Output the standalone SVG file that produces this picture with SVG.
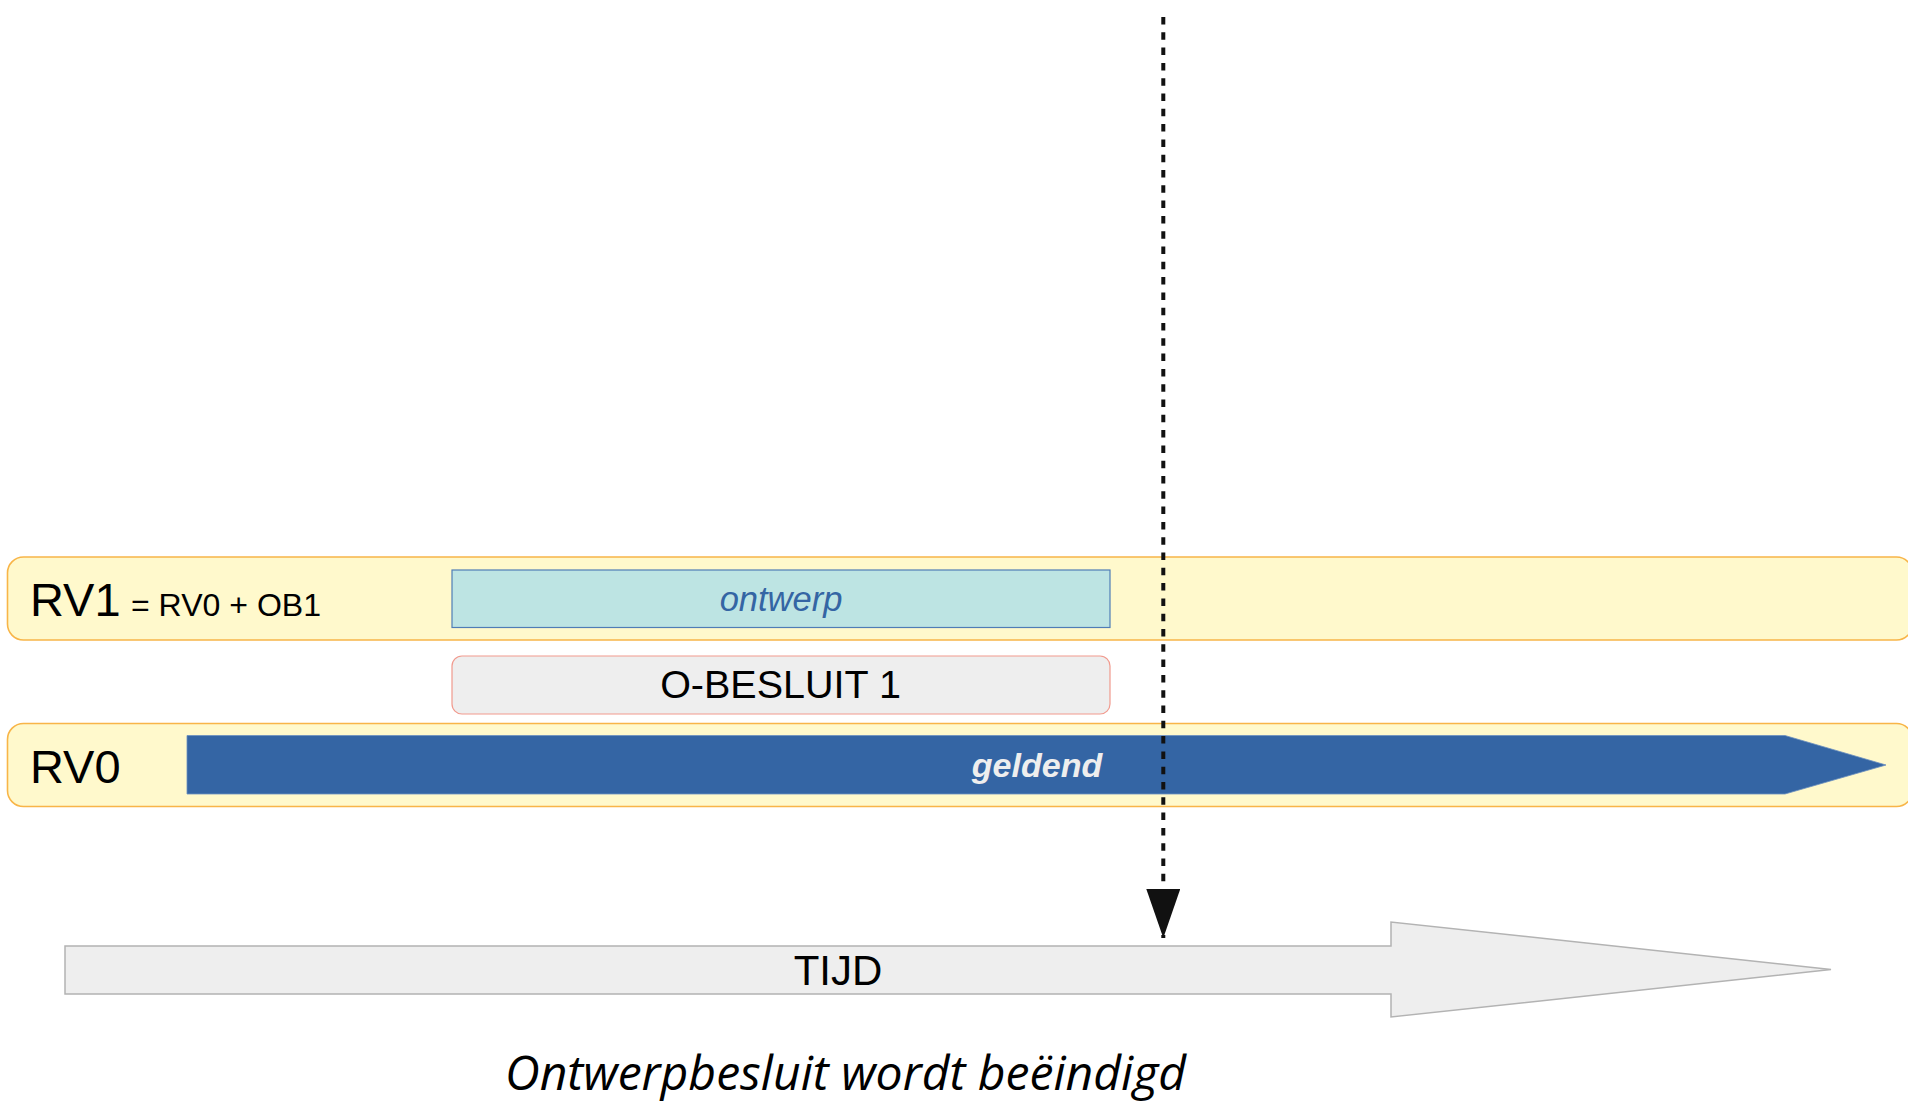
<svg xmlns="http://www.w3.org/2000/svg" width="1908" height="1101" viewBox="0 0 1908 1101">
  <style>
    .band { fill: #fff9cc; stroke: #f8b548; stroke-width: 1.6; }
    .lbl { font-family: "Liberation Sans", Arial, sans-serif; fill: #000000; }
    .big { font-size: 47px; }
  </style>
  <defs>
    <marker id="arrowHead" markerUnits="userSpaceOnUse" markerWidth="50" markerHeight="34" viewBox="0 0 50 34" refX="49" refY="17" orient="auto">
      <path d="M0,0 L49,17 L0,34 z" fill="#111111"/>
    </marker>
  </defs>
  <rect width="1908" height="1101" fill="#ffffff"/>

  <g id="rv1">
    <rect class="band" x="7.5" y="557" width="1905" height="83" rx="16" ry="16"/>
    <text class="lbl big" x="30" y="616">RV1</text>
    <text class="lbl" x="131" y="616" font-size="31px" textLength="190" lengthAdjust="spacingAndGlyphs">= RV0 + OB1</text>
  </g>

  <g id="ontwerp">
    <rect x="452" y="570" width="658" height="57.5" fill="#bde4e3" stroke="#4f7db6" stroke-width="1.2"/>
    <text x="781" y="611" text-anchor="middle" font-family="'Liberation Sans', Arial, sans-serif" font-size="34.5px" font-style="italic" fill="#3465a4">ontwerp</text>
  </g>

  <g id="obesluit1">
    <rect x="452" y="656" width="658" height="58" rx="10" ry="10" fill="#eeeeee" stroke="#f19a8e" stroke-width="1.2"/>
    <text class="lbl" x="780.5" y="698" text-anchor="middle" font-size="39.5px">O-BESLUIT 1</text>
  </g>

  <g id="rv0">
    <rect class="band" x="7.5" y="723.5" width="1905" height="83" rx="16" ry="16"/>
    <text class="lbl big" x="30" y="783">RV0</text>
  </g>

  <g id="geldend">
    <polygon points="187,735.5 1785,735.5 1886,765 1785,794 187,794" fill="#3465a4" stroke="#6b8fbf" stroke-width="0.8"/>
    <text x="1037" y="777" text-anchor="middle" font-family="'Liberation Sans', Arial, sans-serif" font-size="34px" font-style="italic" font-weight="bold" fill="#eeeeee">geldend</text>
  </g>

  <g id="tijd">
    <polygon points="65,946 1391,946 1391,922 1831,969.5 1391,1017 1391,994 65,994" fill="#eeeeee" stroke="#b3b3b3" stroke-width="1.5"/>
    <text class="lbl" x="838" y="985" text-anchor="middle" font-size="42px">TIJD</text>
  </g>

  <g id="caption">
    <text x="505" y="1090" textLength="681" lengthAdjust="spacingAndGlyphs" font-family="'Open Sans', 'Noto Sans', sans-serif" font-size="47px" font-style="italic" fill="#000000">Ontwerpbesluit wordt beëindigd</text>
  </g>

  <g id="connectors">
    <line x1="1163.3" y1="17" x2="1163.3" y2="938" stroke="#111111" stroke-width="4" stroke-dasharray="7.5 7.8" marker-end="url(#arrowHead)"/>
  </g>
</svg>
